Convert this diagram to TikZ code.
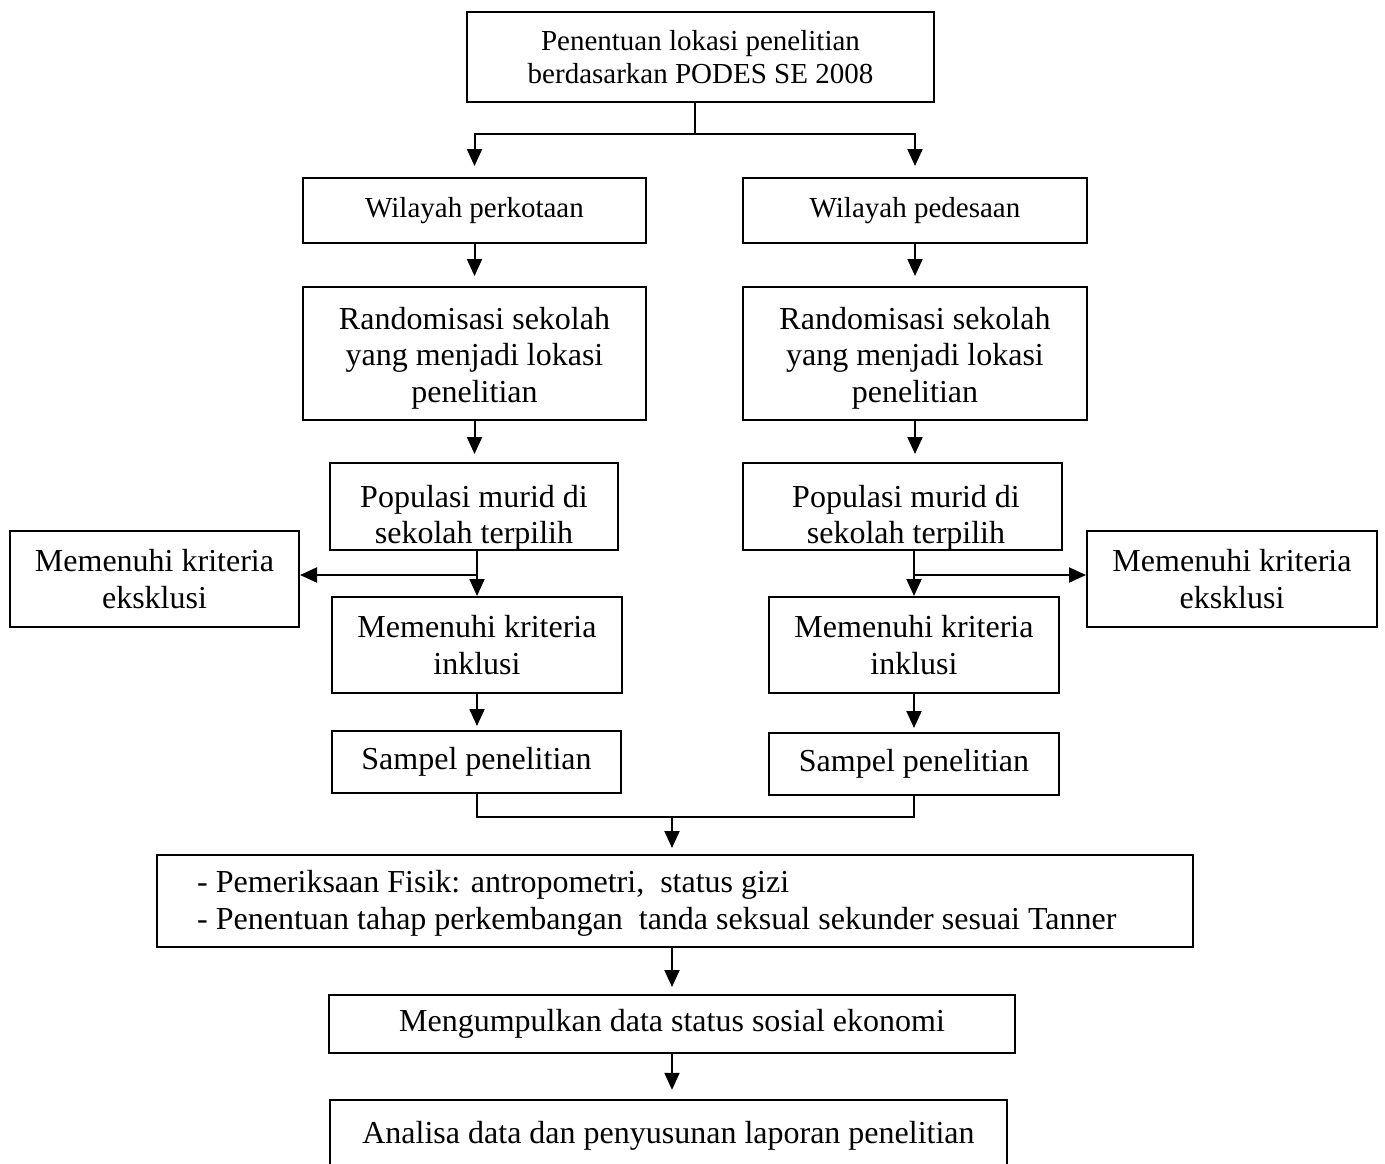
\documentclass[tikz,border=0pt]{standalone}
\usepackage{fontspec}
\setmainfont{Liberation Serif}
\usetikzlibrary{arrows.meta}
\begin{document}
\begin{tikzpicture}[x=1pt,y=-1pt,
  box/.style={draw, line width=2pt, inner sep=0pt, align=center, font=\fontsize{32}{36.5}\selectfont},
  boxa/.style={box, font=\fontsize{29}{33}\selectfont},
  plain/.style={inner sep=0pt, align=center, font=\fontsize{32}{36.5}\selectfont},
  arr/.style={line width=2pt, -{Triangle[width=15pt,length=17pt]}},
  ln/.style={line width=2pt}]
\useasboundingbox (0,0) rectangle (1385,1163);
\fill[white] (0,0) rectangle (1385,1163);
% boxes
\node[boxa, minimum width=467pt, minimum height=90pt] (top) at (700.5,57) {Penentuan lokasi penelitian\\berdasarkan PODES SE 2008};
\node[boxa, minimum width=343pt, minimum height=65pt] (wl) at (474.5,210.5) {Wilayah perkotaan};
\node[boxa, minimum width=344pt, minimum height=65pt] (wr) at (915,210.5) {Wilayah pedesaan};
\node[box, minimum width=343pt, minimum height=133pt] (rl) at (474.5,353.5) {};
\node[plain] (rlt) at (474.5,358) {Randomisasi sekolah\\yang menjadi lokasi\\penelitian};
\node[box, minimum width=344pt, minimum height=133pt] (rr) at (915,353.5) {};
\node[plain] (rrt) at (915,358) {Randomisasi sekolah\\yang menjadi lokasi\\penelitian};
\begin{scope}
  \clip (330,463) rectangle (618,550);
  \node[plain] (plt) at (474,518) {Populasi murid di\\sekolah terpilih};
\end{scope}
\node[box, minimum width=288pt, minimum height=87pt] (pl) at (474,506.5) {};
\begin{scope}
  \clip (743,463) rectangle (1062,550);
  \node[plain] (prt) at (906,518) {Populasi murid di\\sekolah terpilih};
\end{scope}
\node[box, minimum width=319pt, minimum height=87pt] (pr) at (902.5,506.5) {};
\node[box, minimum width=289pt, minimum height=96pt] (el) at (154.5,579) {Memenuhi kriteria\\eksklusi};
\node[box, minimum width=290pt, minimum height=96pt] (er) at (1232,579) {Memenuhi kriteria\\eksklusi};
\node[box, minimum width=290pt, minimum height=96pt] (il) at (477,645) {Memenuhi kriteria\\inklusi};
\node[box, minimum width=290pt, minimum height=96pt] (ir) at (914,645) {Memenuhi kriteria\\inklusi};
\node[box, minimum width=289pt, minimum height=62pt] (sl) at (476.5,762) {Sampel penelitian};
\node[box, minimum width=290pt, minimum height=62pt] (sr) at (914,764) {Sampel penelitian};
\node[box, minimum width=1036pt, minimum height=92pt] (pem) at (675,901) {};
\node[inner sep=0pt, align=left, anchor=west, font=\fontsize{32}{37}\selectfont] (pemt) at (197,903) {- Pemeriksaan Fisik: antropometri,\ \ status gizi\\- Penentuan tahap perkembangan\ \ tanda seksual sekunder sesuai Tanner};
\node[box, minimum width=686pt, minimum height=58pt] (mk) at (672,1024) {Mengumpulkan data status sosial ekonomi};
\node[plain, minimum width=677pt, minimum height=72pt] (an) at (668.5,1136) {Analisa data dan penyusunan laporan penelitian};
\draw[ln] (an.south west) -- (an.north west) -- (an.north east) -- (an.south east);
% connectors
\coordinate (j) at (695,134);
\draw[ln] (j |- top.south) -- (j);
\draw[arr, shorten >=11pt] (j) -| (wl.north);
\draw[arr, shorten >=11pt] (j) -| (wr.north);
\draw[arr, shorten >=10pt] (wl.south) -- (rl.north);
\draw[arr, shorten >=10pt] (wr.south) -- (rr.north);
\draw[arr, shorten >=8pt] (rl.south) -- (rl.south |- pl.north);
\draw[arr, shorten >=8pt] (rr.south) -- (rr.south |- pr.north);
\draw[arr] (il.north |- pl.south) -- (il.north);
\draw[arr] (ir.north |- pr.south) -- (ir.north);
\coordinate (bl) at (478,575);
\coordinate (br) at (914,575);
\draw[arr] (bl) -- (bl -| el.east);
\draw[arr] (br) -- (br -| er.west);
\draw[arr, shorten >=4pt] (il.south) -- (il.south |- sl.north);
\draw[arr, shorten >=4pt] (ir.south) -- (ir.south |- sr.north);
\coordinate (m) at (672,817);
\draw[ln] (sl.south) -- (sl.south |- m) -- (sr.south |- m) -- (sr.south);
\draw[arr, shorten >=6pt] (m) -- (m |- pem.north);
\draw[arr, shorten >=7pt] (mk.north |- pem.south) -- (mk.north);
\draw[arr, shorten >=10pt] (mk.south) -- (mk.south |- an.north);
\end{tikzpicture}
\end{document}
